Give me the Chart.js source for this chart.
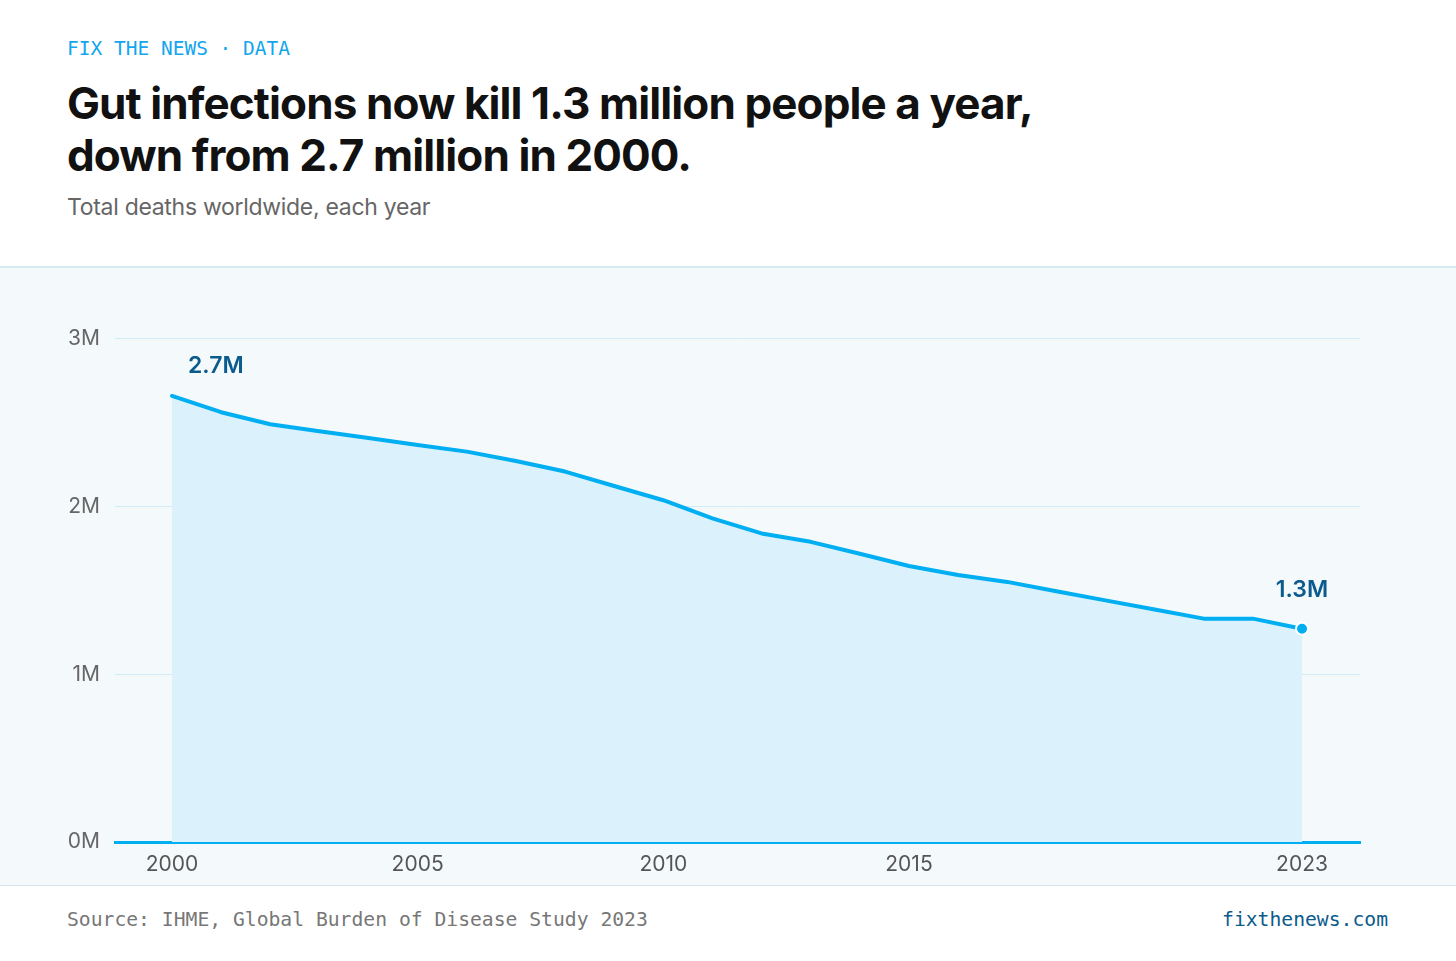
<!DOCTYPE html>
<html>
<head>
<meta charset="utf-8">
<script src="https://cdn.jsdelivr.net/npm/chart.js@4.4.1/dist/chart.umd.min.js"></script>
<style>
  body { margin: 0; width: 1456px; height: 961px; background: #fff; position: relative; overflow: hidden; font-family: Inter, "Noto Sans", sans-serif; }
  .kicker { position: absolute; left: 67px; top: 37px; font: 19.5px "DejaVu Sans Mono", monospace; color: #13a6ee; }
  h1 { position: absolute; left: 67px; top: 77px; margin: 0; font: 700 44px/52px Inter, sans-serif; letter-spacing: -0.9px; color: #111; }
  .sub { position: absolute; left: 67px; top: 193px; font: 23px Inter, sans-serif; letter-spacing: -0.3px; color: #666; }
  .panel { position: absolute; left: 0; top: 266px; width: 1456px; height: 617px; background: #f4f9fc; border-top: 2px solid #d7ebf3; border-bottom: 1px solid #d7e6ee; }
  .foot { position: absolute; top: 908px; font: 19.7px "DejaVu Sans Mono", monospace; }
  .src { left: 67px; color: #777; }
  .site { right: 68px; color: #0b5b8c; }
</style>
</head>
<body>
<div class="kicker">FIX THE NEWS · DATA</div>
<h1>Gut infections now kill 1.3 million people a year,<br>down from 2.7 million in 2000.</h1>
<div class="sub">Total deaths worldwide, each year</div>
<div class="panel"><canvas id="gutChart"></canvas></div>
<div class="foot src">Source: IHME, Global Burden of Disease Study 2023</div>
<div class="foot site">fixthenews.com</div>

<script>
const years = [2000, 2001, 2002, 2003, 2004, 2005, 2006, 2007, 2008, 2009, 2010, 2011,
               2012, 2013, 2014, 2015, 2016, 2017, 2018, 2019, 2020, 2021, 2022, 2023];
// deaths, millions
const deaths = [2.66, 2.563, 2.491, 2.449, 2.409, 2.368, 2.328, 2.272, 2.209, 2.123, 2.038, 1.93,
                1.84, 1.79, 1.719, 1.646, 1.592, 1.551, 1.495, 1.441, 1.387, 1.332, 1.332, 1.272];
const xTicks = [2000, 2005, 2010, 2015, 2023];
const yTicks = [0, 1, 2, 3];
const startLabel = "2.7M";
const endLabel = "1.3M";

const LINE = "#00aef2";

// labels for first and last point
const pointLabels = {
  id: "pointLabels",
  afterDatasetsDraw(chart) {
    const pts = chart.getDatasetMeta(0).data;
    const first = pts[0];
    const last = pts[pts.length - 1];
    const ctx = chart.ctx;
    ctx.save();
    ctx.font = "600 23px Inter, sans-serif";
    ctx.fillStyle = "#0b5b8c";
    ctx.textBaseline = "middle";
    ctx.textAlign = "left";
    ctx.fillText(startLabel, first.x + 16, first.y - 30);
    ctx.textAlign = "center";
    ctx.fillText(endLabel, last.x, last.y - 39);
    ctx.restore();
  }
};

new Chart(document.getElementById("gutChart"), {
  type: "line",
  data: {
    datasets: [{
      data: years.map((y, i) => ({ x: y, y: deaths[i] })),
      borderColor: LINE,
      borderWidth: 4,
      borderJoinStyle: "round",
      borderCapStyle: "round",
      backgroundColor: "#dbf1fb",
      fill: "origin",
      tension: 0,
      pointRadius: years.map((y, i) => i === years.length - 1 ? 6 : 0),
      pointBackgroundColor: LINE,
      pointBorderColor: "#ffffff",
      pointBorderWidth: 2
    }]
  },
  options: {
    responsive: true,
    maintainAspectRatio: false,
    animation: false,
    layout: { padding: { top: 29, right: 96, left: 0, bottom: 0 } },
    plugins: { legend: { display: false }, tooltip: { enabled: false } },
    scales: {
      x: {
        type: "linear",
        min: 1998.84,
        max: 2024.18,
        afterBuildTicks: (axis) => { axis.ticks = xTicks.map(v => ({ value: v })); },
        afterFit: (axis) => { axis.height = 43; },
        grid: { display: false, drawTicks: false },
        border: { display: true, color: LINE, width: 3 },
        ticks: {
          padding: 10,
          color: "#555",
          font: { family: "Inter", size: 21 },
          callback: (v) => String(v)
        }
      },
      y: {
        min: 0,
        max: 3.25,
        afterBuildTicks: (axis) => { axis.ticks = yTicks.map(v => ({ value: v })); },
        afterFit: (axis) => { axis.width = 115; },
        grid: {
          drawTicks: false,
          color: (c) => c.tick && c.tick.value === 0 ? "rgba(0,0,0,0)" : "#d2ebf6",
          lineWidth: 1
        },
        border: { display: false },
        ticks: {
          padding: 15,
          color: "#666",
          font: { family: "Inter", size: 21 },
          callback: (v) => v + "M"
        }
      }
    }
  },
  plugins: [pointLabels]
});
</script>
</body>
</html>
